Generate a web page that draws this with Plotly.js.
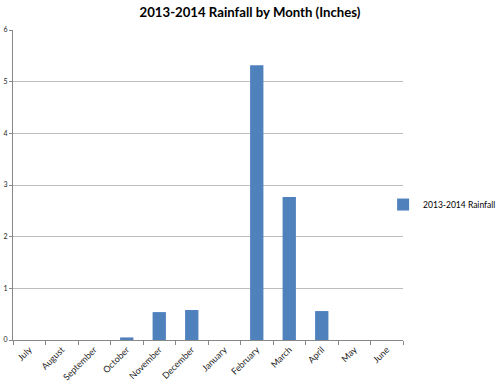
<!DOCTYPE html>
<html><head><meta charset="utf-8">
<script src="https://cdn.plot.ly/plotly-3.0.1.min.js"></script>
<style>html,body{margin:0;padding:0;background:#fff}#chart{width:500px;height:388px}</style>
</head><body><div id="chart"></div>
<script>
const months = ["July","August","September","October","November","December","January","February","March","April","May","June"];
const rainfall = [0, 0, 0, 0.05, 0.54, 0.58, 0, 5.32, 2.77, 0.56, 0, 0];
const seriesName = "2013-2014 Rainfall";
const yTicks = [0,1,2,3,4,5,6];

Plotly.newPlot("chart", [{
  type: "bar", x: months, y: rainfall, name: seriesName,
  marker: {color: "#4f81bd"}, showlegend: true
}], {
  width: 500, height: 388,
  margin: {l: 13, r: 97, t: 30, b: 47.5, pad: 0, autoexpand: false},
  paper_bgcolor: "#fff", plot_bgcolor: "#fff",
  font: {family: "Lato, 'Open Sans', sans-serif", color: "#222", size: 8},
  title: {text: "<b>2013-2014 Rainfall by Month (Inches)</b>", x: 0.5, xanchor: "center", y: 0.967, yanchor: "middle",
    font: {size: 13.2, color: "#000", family: "Lato, 'Open Sans', sans-serif"}},
  bargap: 0.59,
  showlegend: true,
  legend: {x: 0.949, xanchor: "left", y: 0.437, yanchor: "middle", bgcolor: "rgba(0,0,0,0)",
    font: {size: 8.5, color: "#000"}, itemwidth: 30},
  xaxis: {type: "category", tickangle: -45, tickson: "boundaries", ticks: "outside", ticklen: 4, tickcolor: "#888",
    showline: true, linecolor: "#888", showgrid: false, automargin: false, tickfont: {size: 9, color: "#222"}},
  yaxis: {range: [0, 6], tickvals: yTicks, ticks: "outside", ticklen: 3, tickcolor: "#888", automargin: false,
    showline: true, linecolor: "#888", gridcolor: "#bcbcbc", zeroline: false, tickfont: {size: 7, color: "#222"}}
}, {displayModeBar: false, staticPlot: true});
</script></body></html>
